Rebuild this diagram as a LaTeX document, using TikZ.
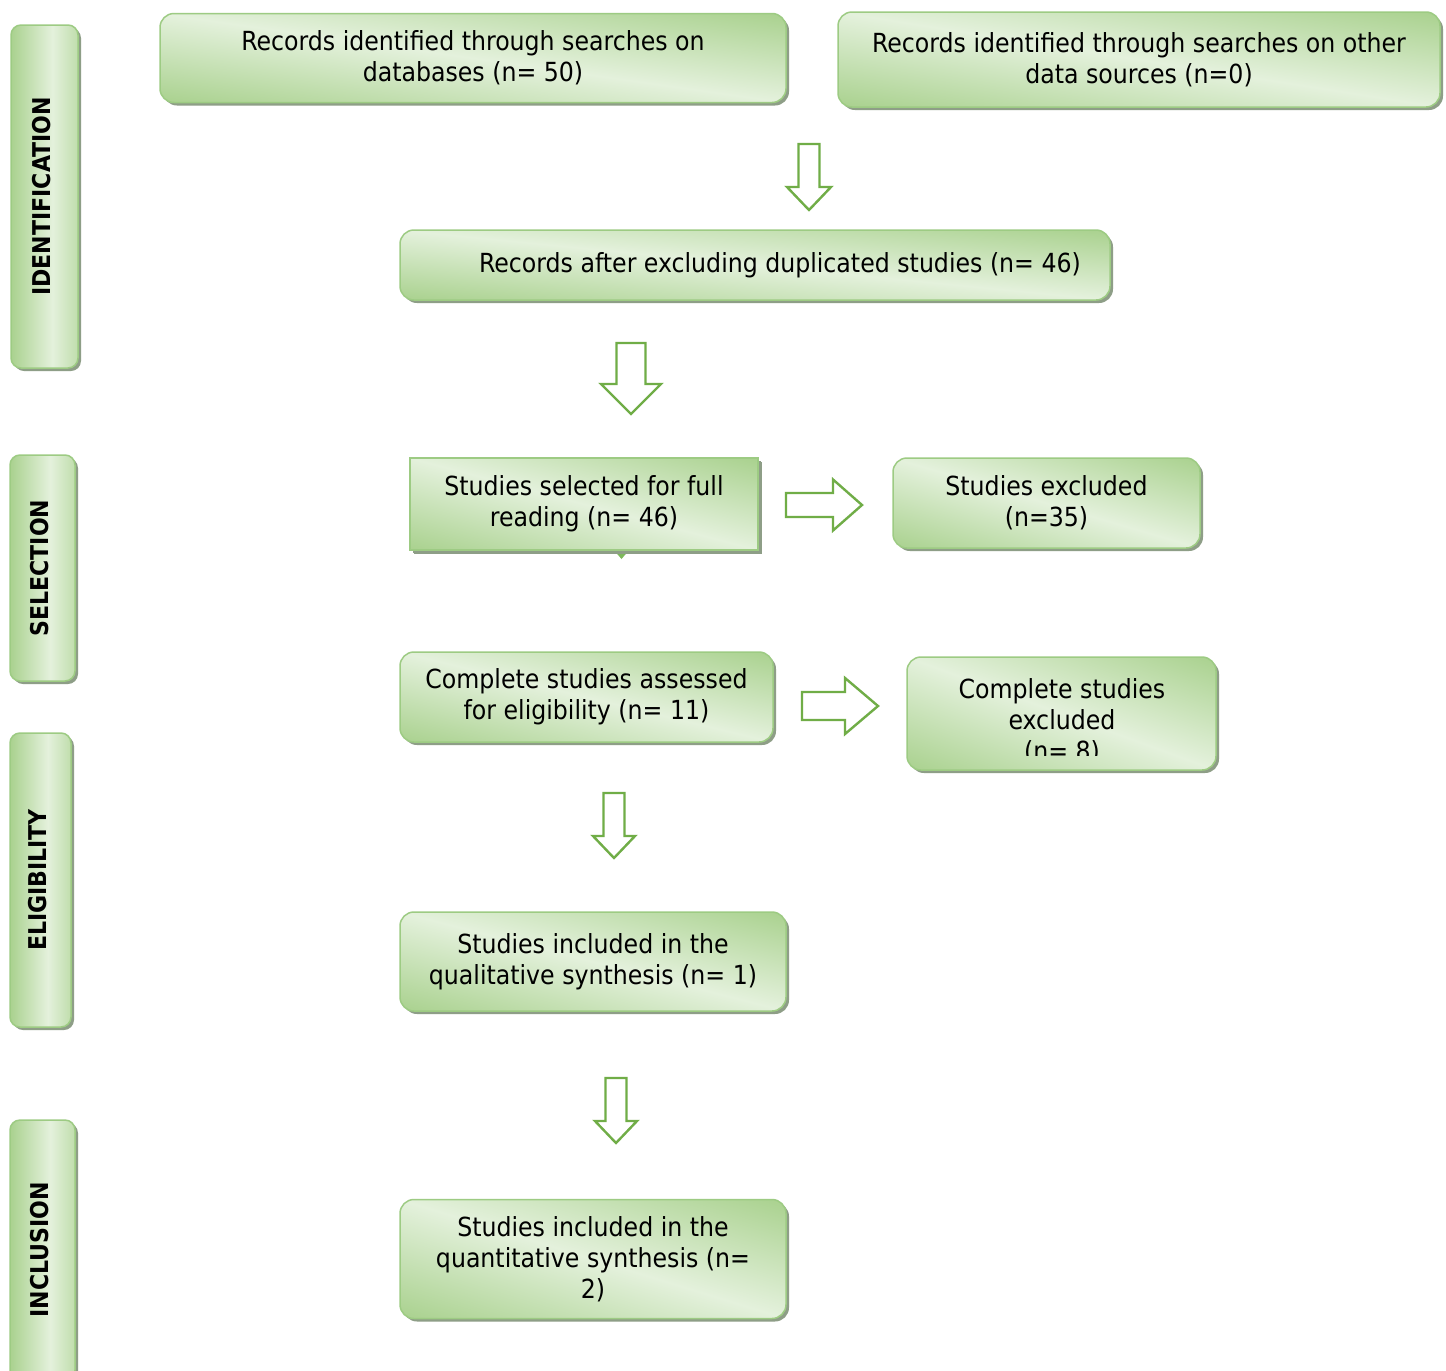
\documentclass[tikz,border=0pt]{standalone}
\usepackage{fontspec}
\usepackage{graphicx}
\setmainfont{DejaVu Sans Condensed}
\usetikzlibrary{shadows}
\definecolor{gborder}{HTML}{9DCB83}
\definecolor{gshadow}{HTML}{8E9E87}
\definecolor{garrow}{HTML}{70AD47}
\definecolor{gtri}{HTML}{7DB95A}
% box gradient: diagonal band, dark at lower-left and upper-right, light along the other diagonal
\pgfdeclarefunctionalshading{gdiag}{\pgfpointorigin}{\pgfpoint{100bp}{100bp}}{}{
  add 50 sub 100 div
  2 mul 1 sub abs 1 exch sub
  dup 0.231 mul 0.663 add exch dup 0.125 mul 0.820 add exch 0.306 mul 0.557 add
}
% side gradient: dark at left, light toward the right
\pgfdeclarefunctionalshading{gvert}{\pgfpointorigin}{\pgfpoint{100bp}{100bp}}{}{
  pop 25 sub 50 div
  0.62 sub 0.62 div abs 1 exch sub
  dup 0.231 mul 0.663 add exch dup 0.125 mul 0.820 add exch 0.306 mul 0.557 add
}
\newcommand\mainsz{\fontsize{26.3}{31}\selectfont}
\newcommand\sidesz{\fontsize{24.5}{28}\selectfont\bfseries}
\newcommand\dnblk[6]{%
  \draw[blkarrow] ({#1-#4/2},#2) -- ({#1+#4/2},#2) -- ({#1+#4/2},{#3-#6}) -- ({#1+#5/2},{#3-#6}) -- (#1,#3) -- ({#1-#5/2},{#3-#6}) -- ({#1-#4/2},{#3-#6}) -- cycle;}
\newcommand\rtblk[6]{%
  \draw[blkarrow] (#1,{#3-#4/2}) -- (#1,{#3+#4/2}) -- ({#2-#6},{#3+#4/2}) -- ({#2-#6},{#3+#5/2}) -- (#2,#3) -- ({#2-#6},{#3-#5/2}) -- ({#2-#6},{#3-#4/2}) -- cycle;}
\tikzset{
  box/.style={draw=gborder, line width=1.5pt, rounded corners=14pt, shading=gdiag,
    drop shadow={shadow xshift=3pt, shadow yshift=-3pt, fill=gshadow, opacity=1},
    align=center, font=\mainsz, inner sep=0pt, text=black},
  sidebox/.style={box, shading=gvert, rounded corners=10pt, font=\sidesz},
  blkarrow/.style={draw=garrow, fill=white, line width=2.4pt, line join=miter}
}
\begin{document}
\begin{tikzpicture}[x=1pt, y=-1pt]
\useasboundingbox[fill=white] (0,0) rectangle (1446,1371);
% side labels
\node[sidebox, minimum width=67pt, minimum height=343pt] (sid) at (44.5,196.5) {\rotatebox{90}{IDENTIFICATION}\hspace*{6pt}};
\node[sidebox, minimum width=65pt, minimum height=226pt] (ssel) at (42.5,568) {\rotatebox{90}{SELECTION}\hspace*{6pt}};
\node[sidebox, minimum width=61pt, minimum height=294pt] (selg) at (40.5,880) {\rotatebox{90}{ELIGIBILITY}\hspace*{6pt}};
\node[sidebox, minimum width=65pt, minimum height=260pt] (sinc) at (42.5,1250) {\rotatebox{90}{INCLUSION}\hspace*{6pt}};
% boxes
\node[box, minimum width=626pt, minimum height=89pt] (db) at (473,58) {Records identified through searches on\\databases (n= 50)};
\node[box, minimum width=602pt, minimum height=95pt] (other) at (1139,59.5) {Records identified through searches on other\\data sources (n=0)};
\node[box, minimum width=710pt, minimum height=70pt] (dup) at (755,265) {\hspace*{50pt}Records after excluding duplicated studies (n= 46)};
\fill[gtri] (613,549) -- (630,549) -- (621.5,559) -- cycle;
\node[box, rounded corners=0pt, minimum width=348pt, minimum height=92pt, drop shadow={shadow xshift=4pt, shadow yshift=-4pt, fill=gshadow, opacity=1}] (sel) at (584,504) {Studies selected for full\\reading (n= 46)};
\node[box, minimum width=307pt, minimum height=90pt] (exc) at (1046.5,503) {Studies excluded\\(n=35)};
\node[box, minimum width=373pt, minimum height=90pt] (elig) at (586.5,697) {Complete studies assessed\\for eligibility (n= 11)};
\node[box, minimum width=309pt, minimum height=113pt] (cexc) at (1061.5,713.5) {};
\begin{scope}
\clip (900,650) rectangle (1230,755);
\node[font=\mainsz, align=center, anchor=north, inner sep=0pt] (cexct) at (1062,678) {Complete studies\\excluded\\(n= 8)};
\end{scope}
\node[box, minimum width=386pt, minimum height=99pt] (qual) at (593,961.5) {Studies included in the\\qualitative synthesis (n= 1)};
\node[box, minimum width=386pt, minimum height=119pt] (quant) at (593,1259) {Studies included in the\\quantitative synthesis (n=\\2)};
% block arrows
\dnblk{809}{144}{210}{21}{44}{23}
\dnblk{631}{343}{414}{29}{60}{30}
\rtblk{786}{862}{505}{24}{51}{29}
\rtblk{802}{878}{706}{28}{56}{33}
\dnblk{614}{793}{858}{21}{42}{22}
\dnblk{616}{1078}{1143}{21}{42}{22}
\end{tikzpicture}
\end{document}
